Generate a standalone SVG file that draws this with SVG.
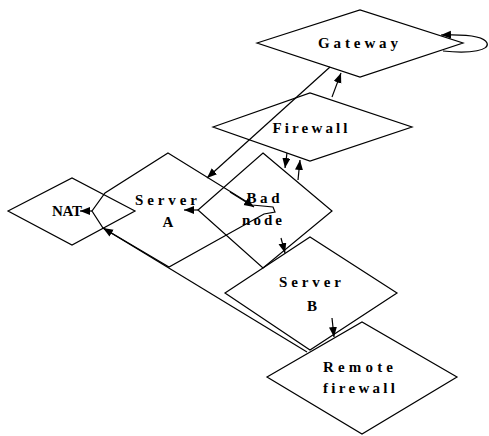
<svg xmlns="http://www.w3.org/2000/svg" width="489" height="436" viewBox="0 0 489 436">
<defs>
<style>
.n{fill:none;stroke:#000;stroke-width:1.2}
.t{font-family:"Liberation Serif",serif;font-size:15px;font-weight:bold;fill:#000;text-anchor:middle}
.e{fill:none;stroke:#000;stroke-width:1.2}
</style>
<marker id="a" markerUnits="userSpaceOnUse" markerWidth="11" markerHeight="9" refX="10" refY="4" orient="auto">
<path d="M0,0 L10,4 L0,8 z" fill="#000"/>
</marker>
</defs>
<rect width="489" height="436" fill="#fff"/>
<g id="gateway">
<polygon class="n" points="257,43 360,10 463,43 360,77"/>
<text class="t" x="358" y="48" textLength="80" lengthAdjust="spacing">Gateway</text>
</g>
<g id="firewall">
<polygon class="n" points="213,127 310,93 412,127 310,161"/>
<text class="t" x="310" y="133" textLength="75" lengthAdjust="spacing">Firewall</text>
</g>
<g id="nat">
<polygon class="n" points="8,211 72,178 135,211 72,245"/>
<text class="t" x="67" y="216" textLength="30" lengthAdjust="spacing">NAT</text>
</g>
<g id="serverA">
<polygon class="n" points="168,153 252,205 273,207 275,212 264,214 169,267 103,228 92,211 105,193"/>
<text class="t" x="166" y="205" textLength="62" lengthAdjust="spacing">Server</text>
<text class="t" x="168" y="227">A</text>
</g>
<g id="badnode">
<polygon class="n" points="263,153 332,211 263,268 198,210"/>
<text class="t" x="263" y="203" textLength="33" lengthAdjust="spacing">Bad</text>
<text class="t" x="262" y="225" textLength="40" lengthAdjust="spacing">node</text>
</g>
<g id="serverB">
<polygon class="n" points="225,293 310,237 397,293 310,350"/>
<text class="t" x="310" y="287" textLength="62" lengthAdjust="spacing">Server</text>
<text class="t" x="312" y="311">B</text>
</g>
<g id="remotefirewall">
<polygon class="n" points="267,377 362,322 457,377 362,434"/>
<text class="t" x="358" y="372" textLength="70" lengthAdjust="spacing">Remote</text>
<text class="t" x="359" y="393" textLength="72" lengthAdjust="spacing">firewall</text>
</g>
<g id="connectors">
<path class="e" d="M443,51 C472,54 490,50 487,43 C484,36 468,34 441,35" marker-end="url(#a)"/>
<line class="e" x1="332" y1="97" x2="341" y2="73" marker-end="url(#a)"/>
<line class="e" x1="330" y1="67" x2="207" y2="178" marker-end="url(#a)"/>
<line class="e" x1="287" y1="153" x2="285" y2="168" marker-end="url(#a)"/>
<line class="e" x1="298" y1="180" x2="300" y2="160" marker-end="url(#a)"/>
<line class="e" x1="198" y1="210" x2="184" y2="210" marker-end="url(#a)"/>
<line class="e" x1="230" y1="192" x2="254" y2="207" marker-end="url(#a)"/>
<line class="e" x1="92" y1="211" x2="80" y2="211" marker-end="url(#a)"/>
<line class="e" x1="281" y1="238" x2="285" y2="253" marker-end="url(#a)"/>
<line class="e" x1="332" y1="318" x2="334" y2="337" marker-end="url(#a)"/>
<line class="e" x1="307" y1="352" x2="103" y2="228" marker-end="url(#a)"/>
</g>
</svg>
